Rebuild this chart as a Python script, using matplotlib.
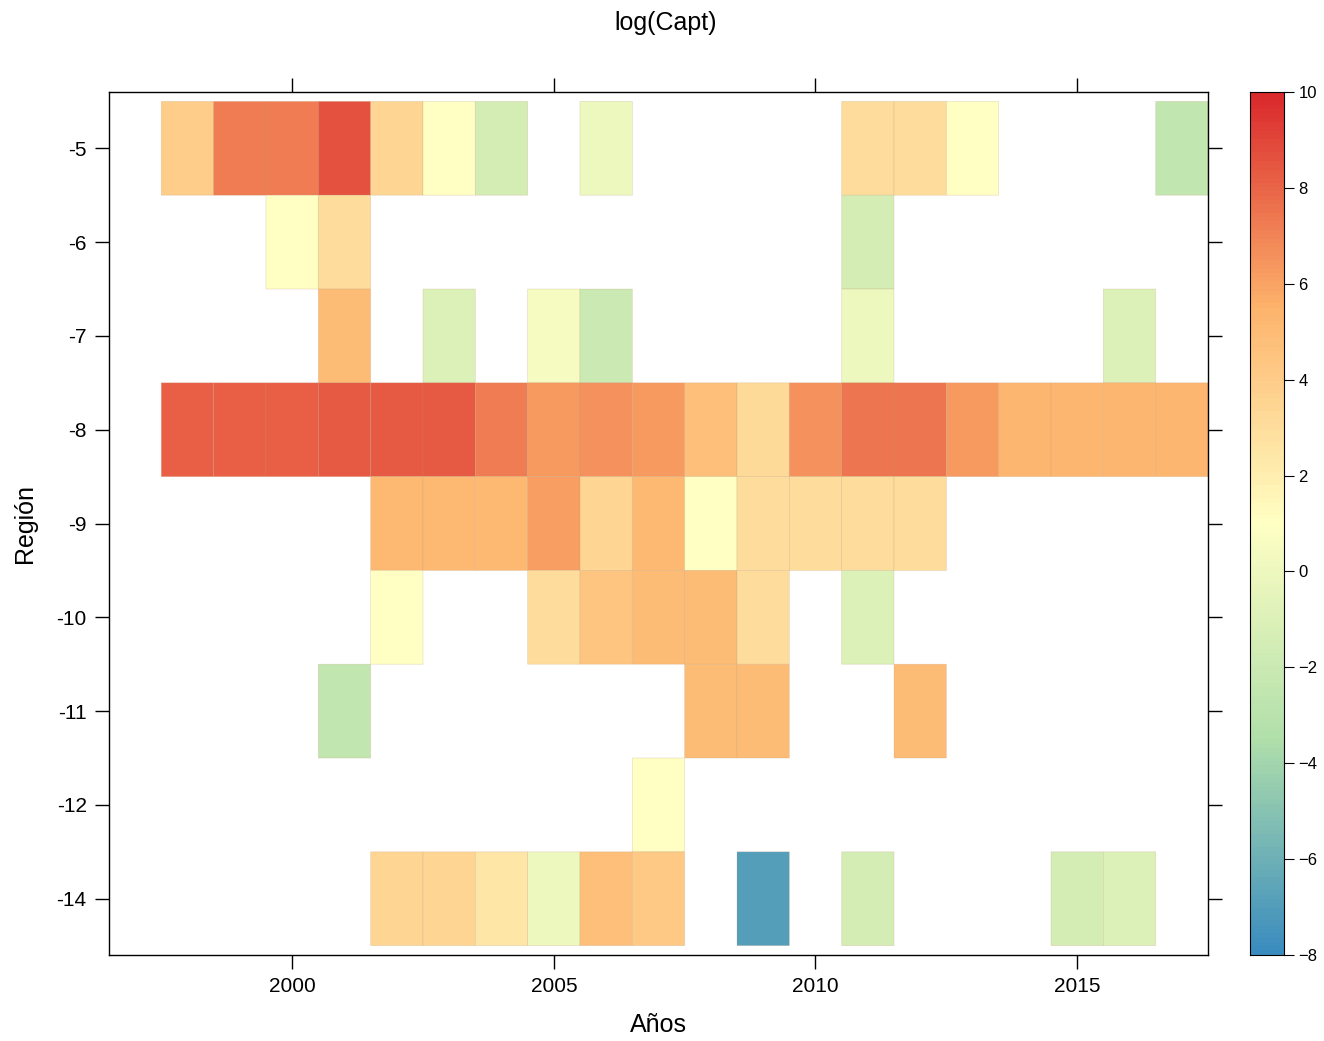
import numpy as np
import matplotlib
matplotlib.use("Agg")
import matplotlib.pyplot as plt
from matplotlib.colors import LinearSegmentedColormap, Normalize, to_rgb

plt.rcParams['font.family'] = ['Liberation Sans', 'DejaVu Sans']

years = list(range(1998, 2018))
regions = [-5, -6, -7, -8, -9, -10, -11, -12, -14]
region_labels = ['-5', '-6', '-7', '-8', '-9', '-10', '-11', '-12', '-14']
nan = np.nan

# log(Capt) values, rows = regions, cols = years 1998..2017
row_m5  = [4, 7.3, 7.3, 8.6, 3.5, 1, -1.5, nan, 0, nan, nan, nan, nan, 3, 3, 1, nan, nan, nan, -2.5]
row_m6  = [nan, nan, 1, 3, nan, nan, nan, nan, nan, nan, nan, nan, nan, -1.5, nan, nan, nan, nan, nan, nan]
row_m7  = [nan, nan, nan, 5, nan, -1, nan, 0.5, -2, nan, nan, nan, nan, 0, nan, nan, nan, nan, -1, nan]
row_m8  = [8.2, 8.2, 8.2, 8.4, 8.4, 8.4, 7.3, 6.3, 6.6, 6.3, 4.8, 3.2, 6.6, 7.5, 7.5, 6.3, 5.3, 5.3, 5.3, 5.3]
row_m9  = [nan, nan, nan, nan, 5.2, 5.2, 5.2, 6.2, 3.5, 5.2, 1, 3, 3, 3, 3, nan, nan, nan, nan, nan]
row_m10 = [nan, nan, nan, nan, 1, nan, nan, 3, 4.5, 5, 5, 3, nan, -1, nan, nan, nan, nan, nan, nan]
row_m11 = [nan, nan, nan, -2.5, nan, nan, nan, nan, nan, nan, 5, 5, nan, nan, 5, nan, nan, nan, nan, nan]
row_m12 = [nan, nan, nan, nan, nan, nan, nan, nan, nan, 1, nan, nan, nan, nan, nan, nan, nan, nan, nan, nan]
row_m14 = [nan, nan, nan, nan, 3.5, 3.5, 2.5, 0, 4.8, 4.2, nan, -7, nan, -1.5, nan, nan, nan, -1.5, -1, nan]

Z = np.array([row_m5, row_m6, row_m7, row_m8, row_m9, row_m10, row_m11, row_m12, row_m14], dtype=float)
Zm = np.ma.masked_invalid(Z)

base = ['#2b83ba', '#abdda4', '#ffffbf', '#fdae61', '#d7191c']
faded = [tuple(0.93 * c + 0.07 for c in to_rgb(h)) for h in base]
cmap = LinearSegmentedColormap.from_list('spec', faded)
norm = Normalize(vmin=-8, vmax=10)

fig = plt.figure(figsize=(13.24, 10.41), dpi=100)
ax = fig.add_axes([0.0823, 0.0826, 0.8301, 0.829])

xedges = np.arange(years[0] - 0.5, years[-1] + 1.5, 1.0)
yedges = np.arange(-0.5, len(regions) + 0.5, 1.0)
ax.pcolor(xedges, yedges, Zm, cmap=cmap, norm=norm,
          edgecolors=(0.75, 0.6, 0.45, 0.3), linewidth=0.5)

ax.set_xlim(1996.5, 2017.5)
ax.set_ylim(len(regions) - 0.4, -0.6)
ax.set_xticks([2000, 2005, 2010, 2015])
ax.set_yticks(range(len(regions)))
ax.set_yticklabels(region_labels)
ax.tick_params(axis='both', direction='out', length=10, width=1, labelsize=15,
               top=True, right=True, labeltop=False, labelright=False)
ax.tick_params(axis='x', pad=6)
ax.tick_params(axis='y', pad=6)
for s in ax.spines.values():
    s.set_linewidth(1.0)
ax.set_xlabel('Años', fontsize=18, labelpad=12)
ax.set_ylabel('Región', fontsize=18, labelpad=14)
fig.text(0.503, 0.978, 'log(Capt)', ha='center', va='center', fontsize=18)

cax = fig.add_axes([0.944, 0.0826, 0.0257, 0.829])
grad = np.linspace(-8, 10, 200).reshape(-1, 1)
cax.pcolormesh([0, 1], np.linspace(-8, 10, 201), grad, cmap=cmap, norm=norm)
cax.set_xlim(0, 1)
cax.set_ylim(-8, 10)
cax.set_xticks([])
cax.yaxis.tick_right()
cax.set_yticks([-8, -6, -4, -2, 0, 2, 4, 6, 8, 10])
cax.tick_params(axis='y', direction='out', length=7, labelsize=12)

fig.savefig('out.png', dpi=100)
